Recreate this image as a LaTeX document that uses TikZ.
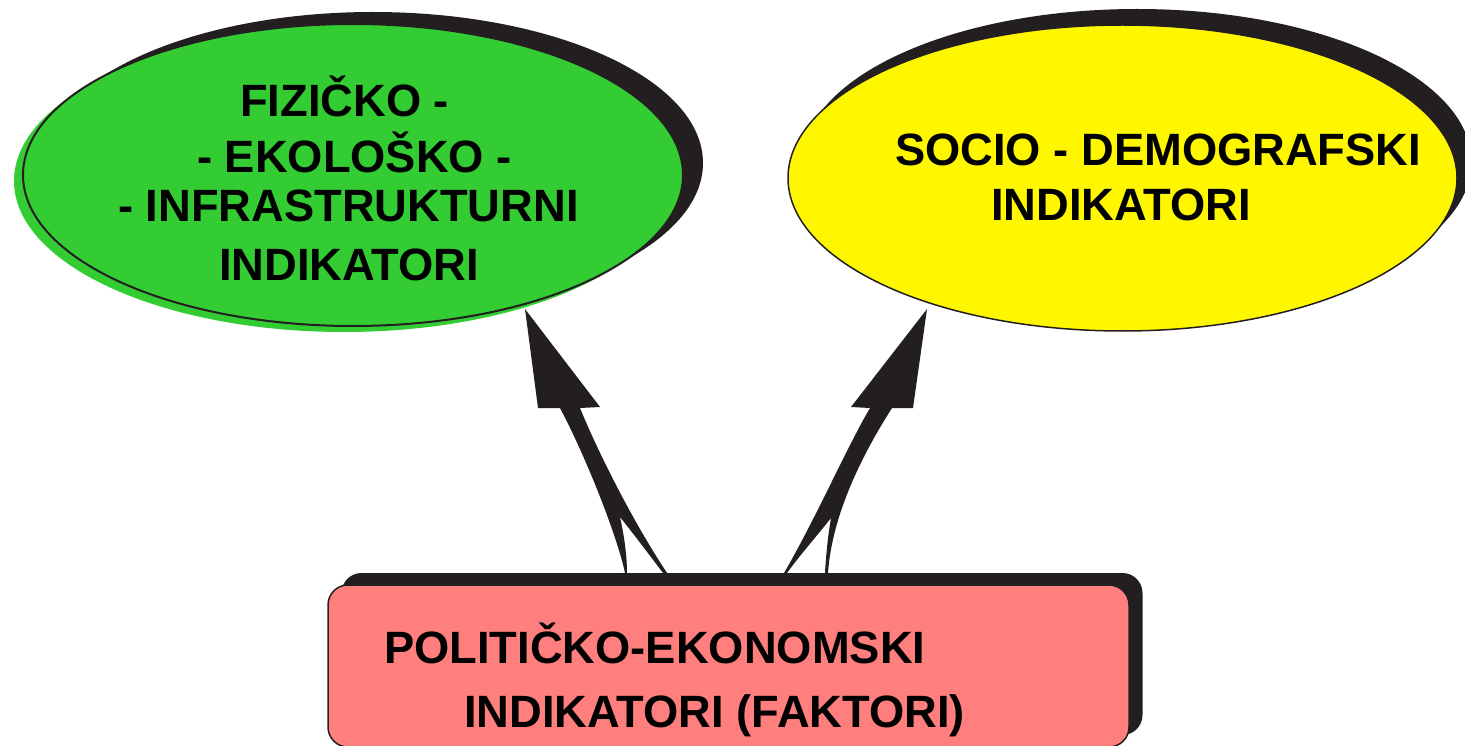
\documentclass[tikz,border=0pt]{standalone}
\usepackage{fontspec}
\setmainfont{Liberation Sans}
\usetikzlibrary{shapes.geometric}
\definecolor{ink}{HTML}{231F20}
\definecolor{grn}{HTML}{33CC33}
\definecolor{ylw}{HTML}{FFF700}
\definecolor{pnk}{HTML}{FF7F7F}
\begin{document}
\begin{tikzpicture}[x=1pt,y=-1pt,
  lbl/.style={anchor=base west, inner sep=0pt, font=\fontsize{45.3}{50}\selectfont\bfseries, text=black},
  ecosize/.style={ellipse, inner sep=0pt, minimum width=660pt, minimum height=302pt},
  socsize/.style={ellipse, inner sep=0pt, minimum width=669pt, minimum height=306pt},
  boxsize/.style={rectangle, inner sep=0pt, rounded corners=20pt, minimum width=801pt, minimum height=162pt},
  arrowfill/.style={fill=ink}
]
\fill[white] (0,0) rectangle (1465,746);
\useasboundingbox (0,0) rectangle (1465,746);

% green ellipse
\node[ecosize, fill=ink] (ecoS) at (373,163) {};
\node[ecosize, fill=grn] (ecoG) at (344,181) {};
\node[ecosize, fill=grn, draw=ink, line width=2pt] (eco) at (353,175) {};

% yellow ellipse
\node[socsize, fill=ink] (socS) at (1137,162) {};
\node[socsize, fill=ylw, draw=ink, line width=1.5pt] (soc) at (1122.5,178) {};

% arrows
\path[arrowfill] (525,309) -- (600,407) -- (580,408)
  .. controls (598,452) and (632,520) .. (667,573) -- (663,573)
  .. controls (648,553) and (632,532) .. (620,517)
  .. controls (624,535) and (627,555) .. (627,573) -- (625,573)
  .. controls (617,535) and (585,455) .. (560,408) -- (538,408) -- cycle;
\path[arrowfill] (927,309) -- (913,408) -- (892,408)
  .. controls (862,455) and (832,515) .. (828,573) -- (825,573)
  .. controls (826,555) and (828,535) .. (831,518)
  .. controls (816,537) and (800,555) .. (787,573) -- (784,573)
  .. controls (815,520) and (848,445) .. (870,408) -- (851,407) -- cycle;

% box
\node[boxsize, fill=ink] (peS) at (742,654) {};
\node[boxsize, fill=pnk, draw=ink, line width=1.5pt] (pe) at (728.5,666) {};

% texts
\node[lbl] (g1) at (240,117) {FIZIČKO -};
\node[lbl] (g2) at (197,173) {- EKOLOŠKO -};
\node[lbl] (g3) at (118,222) {- INFRASTRUKTURNI};
\node[lbl] (g4) at (219,280) {INDIKATORI};
\node[lbl] (s1) at (895,166) {SOCIO - DEMOGRAFSKI};
\node[lbl] (s2) at (991,221) {INDIKATORI};
\node[lbl] (p1) at (384,663) {POLITIČKO-EKONOMSKI};
\node[lbl] (p2) at (464,727) {INDIKATORI (FAKTORI)};
\end{tikzpicture}
\end{document}
